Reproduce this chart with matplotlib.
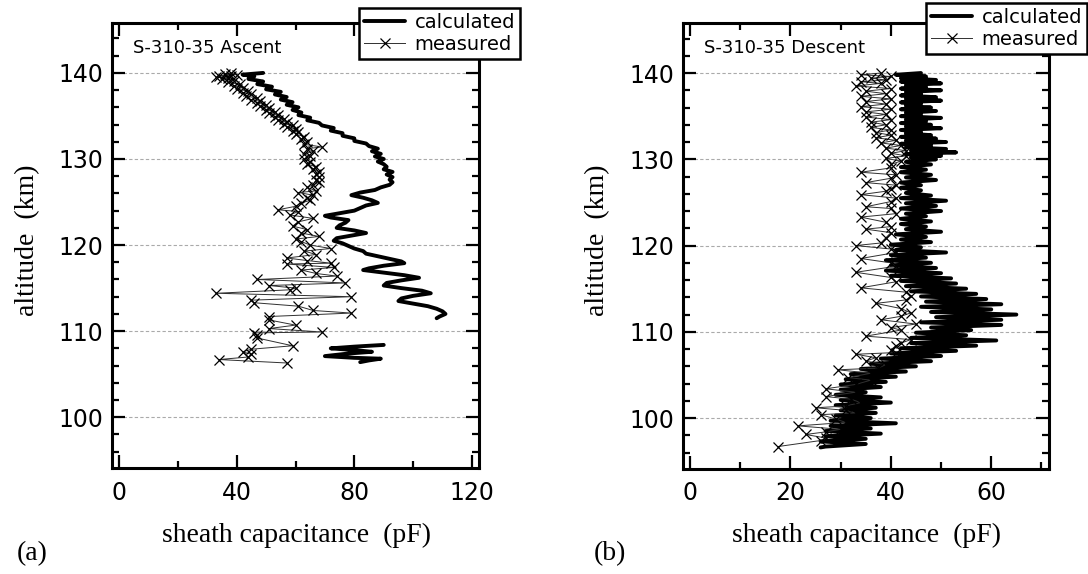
import numpy as np
import matplotlib
matplotlib.use("Agg")
import matplotlib.pyplot as plt
from matplotlib.ticker import MultipleLocator

# ---- (a) S-310-35 ascent ----
asc_calc_alt = [140.0, 139.8, 139.6, 139.3, 139.0, 138.7, 138.4, 138.1, 137.8, 137.5,
                137.2, 136.9, 136.6, 136.3, 136.0, 135.7, 135.4, 135.1, 134.8, 134.5,
                134.2, 133.9, 133.6, 133.3, 133.0, 132.7, 132.4, 132.1, 131.8, 131.5,
                131.2, 130.9, 130.6, 130.3, 130.0, 129.7, 129.4, 129.1, 128.8, 128.5,
                128.2, 127.9, 127.6, 127.3, 127.0, 126.7, 126.4, 126.1, 125.8, 125.5,
                125.2, 124.9, 124.6, 124.3, 124.0, 123.7, 123.4, 123.2, 122.9, 122.6,
                122.3, 122.0, 121.7, 121.4, 121.1, 120.8, 120.5, 120.2, 119.9, 119.6,
                119.3, 119.0, 118.7, 118.4, 118.1, 117.9, 117.6, 117.3, 117.1, 116.8,
                116.5, 116.2, 115.9, 115.6, 115.3, 115.0, 114.7, 114.4, 114.1, 113.8,
                113.5, 113.2, 112.9, 112.6, 112.3, 112.0, 111.7, 111.5]
asc_calc_cap = [49, 42, 46, 44, 49, 47, 52, 50, 55, 53,
                57, 55, 59, 57, 61, 59, 62, 61, 65, 64,
                68, 69, 73, 72, 76, 76, 80, 80, 84, 85,
                88, 86, 89, 87, 90, 88, 90, 91, 90, 93,
                91, 93, 92, 93, 92, 89, 87, 82, 79, 83,
                86, 88, 84, 82, 80, 75, 70, 72, 78, 77,
                75, 74, 80, 84, 79, 74, 73, 76, 78, 80,
                83, 84, 88, 92, 96, 97, 90, 85, 83, 90,
                97, 102, 96, 91, 90, 96, 103, 106, 100, 96,
                95, 100, 105, 108, 110, 111, 109, 108]
# short separate piece near 107 km
asc_calc2_alt = [108.4, 108.2, 108.0, 107.8, 107.6, 107.4, 107.1, 106.9, 106.8, 106.6, 106.4]
asc_calc2_cap = [90, 80, 72, 80, 86, 78, 70, 80, 89, 85, 82]

asc_meas_alt = [140.0, 139.9, 139.8, 139.7, 139.6, 139.5, 139.4, 139.3, 139.1, 138.9,
                138.7, 138.5, 138.3, 138.1, 137.9, 137.7, 137.5, 137.3, 137.1, 136.9,
                136.7, 136.5, 136.3, 136.1, 135.9, 135.7, 135.5, 135.3, 135.1, 134.9,
                134.7, 134.5, 134.3, 134.1, 133.9, 133.7, 133.5, 133.3, 133.1, 132.9,
                132.6, 132.3, 132.0, 131.7, 131.4, 131.2, 130.9, 130.6, 130.3, 130.0,
                129.7, 129.4, 129.1, 128.8, 128.5, 128.2, 127.9, 127.6, 127.3, 127.0,
                126.7, 126.3, 126.1, 125.8, 125.5, 125.2, 124.9, 124.5, 124.1, 123.9,
                123.5, 123.1, 122.7, 122.2, 121.8, 121.4, 121.0, 120.7, 120.4, 120.0,
                119.6, 119.3, 118.9, 118.5, 118.2, 117.9, 117.8, 117.4, 117.1, 116.7,
                116.4, 116.0, 115.6, 115.3, 115.0, 114.8, 114.4, 114.0, 113.6, 113.3,
                112.9, 112.4, 112.1, 111.7, 111.3, 110.7, 110.3, 109.9, 109.8, 109.5,
                109.2, 108.3, 107.9, 107.6, 107.3, 107.0, 106.7, 106.3]
asc_meas_cap = [38, 36, 40, 34, 38, 33, 37, 35, 39, 37,
                41, 39, 42, 40, 44, 42, 45, 43, 47, 45,
                48, 47, 50, 48, 51, 50, 53, 51, 54, 53,
                56, 54, 57, 56, 59, 57, 60, 59, 61, 60,
                63, 62, 64, 63, 69, 64, 66, 63, 65, 63,
                65, 64, 67, 66, 68, 67, 68, 67, 68, 66,
                64, 67, 61, 66, 64, 65, 62, 60, 54, 61,
                58, 66, 61, 59, 64, 62, 68, 60, 62, 65,
                72, 63, 67, 57, 64, 72, 57, 73, 62, 67,
                74, 47, 77, 51, 60, 58, 33, 79, 45, 46,
                61, 66, 79, 51, 51, 60, 51, 69, 46, 47,
                47, 59, 45, 42, 45, 44, 34, 57]

# ---- (b) S-310-35 descent ----
desc_calc_alt = [140.0, 139.8, 139.6, 139.4, 139.2, 139.0, 138.8, 138.6, 138.4, 138.2,
                 138.0, 137.8, 137.6, 137.4, 137.2, 137.0, 136.8, 136.6, 136.4, 136.2,
                 136.0, 135.8, 135.6, 135.4, 135.2, 135.0, 134.8, 134.6, 134.4, 134.2,
                 134.0, 133.8, 133.6, 133.4, 133.2, 133.0, 132.8, 132.6, 132.4, 132.2,
                 132.0, 131.8, 131.6, 131.4, 131.2, 131.0, 130.8, 130.6, 130.4, 130.2,
                 130.0, 129.7, 129.4, 129.1, 128.8, 128.5, 128.2, 127.9, 127.6, 127.3,
                 127.0, 126.7, 126.4, 126.1, 125.8, 125.5, 125.2, 124.9, 124.6, 124.3,
                 124.0, 123.7, 123.4, 123.1, 122.8, 122.5, 122.2, 121.9, 121.6, 121.3,
                 121.0, 120.7, 120.4, 120.1, 119.8, 119.5, 119.2, 118.9, 118.6, 118.3,
                 118.0, 117.7, 117.4, 117.1, 116.8, 116.5, 116.2, 115.9, 115.6, 115.3,
                 115.0, 114.7, 114.4, 114.1, 113.8, 113.5, 113.2, 112.9, 112.6, 112.3,
                 112.0, 111.7, 111.4, 111.1, 110.8, 110.5, 110.2, 109.9, 109.6, 109.3,
                 109.0, 108.7, 108.4, 108.1, 107.8, 107.5, 107.2, 106.9, 106.6, 106.3,
                 106.0, 105.7, 105.4, 105.1, 104.8, 104.5, 104.2, 103.9, 103.6, 103.3,
                 103.0, 102.7, 102.4, 102.1, 101.8, 101.5, 101.2, 100.9, 100.6, 100.3,
                 100.0, 99.7, 99.4, 99.1, 98.8, 98.5, 98.2, 97.9, 97.6, 97.3,
                 97.0, 96.7, 96.6]
desc_calc_cap = [46, 41, 47, 42, 49, 42, 50, 43, 47, 42,
                 50, 43, 46, 42, 49, 43, 50, 42, 46, 43,
                 48, 42, 49, 43, 46, 42, 50, 43, 47, 42,
                 48, 43, 50, 42, 46, 43, 48, 42, 49, 43,
                 51, 42, 48, 43, 51, 44, 53, 43, 50, 44,
                 49, 43, 48, 42, 47, 42, 48, 43, 49, 42,
                 46, 42, 46, 43, 48, 42, 51, 43, 49, 42,
                 50, 43, 47, 42, 48, 42, 47, 43, 50, 41,
                 47, 42, 48, 40, 46, 41, 51, 40, 47, 39,
                 48, 40, 49, 39, 50, 40, 52, 42, 53, 43,
                 55, 44, 57, 46, 59, 47, 62, 46, 60, 48,
                 65, 49, 62, 46, 62, 48, 56, 45, 55, 44,
                 61, 44, 57, 42, 53, 40, 50, 38, 48, 36,
                 45, 34, 43, 32, 41, 31, 39, 30, 38, 30,
                 35, 29, 38, 30, 40, 29, 37, 30, 37, 29,
                 36, 28, 41, 28, 36, 27, 38, 27, 35, 26,
                 35, 27, 26]

desc_meas_alt = [140.0, 139.8, 139.6, 139.4, 139.2, 139.0, 138.8, 138.5, 138.2, 137.9,
                 137.6, 137.3, 137.0, 136.7, 136.4, 136.1, 135.8, 135.5, 135.2, 134.9,
                 134.6, 134.3, 134.0, 133.7, 133.4, 133.1, 132.8, 132.5, 132.2, 131.9,
                 131.6, 131.3, 131.0, 130.7, 130.4, 130.1, 129.8, 129.4, 129.0, 128.5,
                 128.2, 127.8, 127.3, 127.0, 126.6, 126.3, 125.9, 125.5, 125.1, 124.5,
                 124.3, 123.7, 123.3, 122.7, 122.2, 121.9, 121.5, 120.9, 120.3, 120.0,
                 119.6, 119.2, 118.5, 118.0, 117.6, 116.9, 116.3, 115.8, 115.1, 114.6,
                 114.1, 113.7, 113.3, 112.7, 112.2, 111.8, 111.4, 110.9, 110.5, 110.2,
                 109.5, 109.1, 108.7, 108.4, 107.9, 107.6, 107.4, 107.0, 106.6, 106.2,
                 105.8, 105.6, 105.2, 104.7, 104.4, 103.9, 103.4, 103.0, 102.5, 102.2,
                 101.8, 101.4, 101.2, 100.9, 100.6, 100.4, 99.9, 99.5, 99.1, 98.7,
                 98.4, 98.1, 97.7, 97.4, 96.7]
desc_meas_cap = [38, 34, 40, 36, 39, 34, 38, 33, 40, 35,
                 39, 34, 40, 35, 39, 34, 40, 35, 39, 35,
                 40, 36, 39, 36, 40, 37, 40, 37, 41, 38,
                 42, 39, 43, 40, 43, 39, 42, 40, 40, 34,
                 41, 40, 35, 41, 40, 39, 34, 41, 40, 35,
                 40, 41, 34, 39, 40, 35, 40, 39, 38, 33,
                 40, 41, 34, 40, 41, 33, 40, 41, 34, 43,
                 44, 43, 37, 42, 44, 42, 38, 45, 40, 42,
                 35, 44, 42, 41, 40, 41, 33, 37, 35, 39,
                 37.5, 29.5, 36, 31.5, 36, 33, 27, 33, 27, 32,
                 34, 31, 25, 31, 33, 26, 29, 31, 21.5, 30,
                 27, 23, 27, 26, 17.5]

sans = "DejaVu Sans"
serif = "Liberation Serif"

fig = plt.figure(figsize=(10.88, 5.74), dpi=100)


def draw_panel(rect, calc_parts, meas_alt, meas_cap, xmax, xmajor, xminor, tag, leg_anchor):
    ax = fig.add_axes(rect)
    first = True
    for alt, cap in calc_parts:
        ax.plot(cap, alt, color="black", lw=2.8, solid_joinstyle="round",
                solid_capstyle="round", label="calculated" if first else None, zorder=3)
        first = False
    ax.plot(meas_cap, meas_alt, color="#303030", lw=0.7, marker="x", ms=6.5,
            mew=0.9, mec="black", label="measured", zorder=4)

    ax.set_xlim(xmax[0], xmax[1])
    ax.set_ylim(94.1, 145.8)
    ax.xaxis.set_major_locator(MultipleLocator(xmajor))
    ax.xaxis.set_minor_locator(MultipleLocator(xminor))
    ax.yaxis.set_major_locator(MultipleLocator(10))
    ax.yaxis.set_minor_locator(MultipleLocator(2))
    ax.tick_params(which="both", direction="in", top=True, right=True, width=1.6)
    ax.tick_params(which="major", length=9.5)
    ax.tick_params(which="minor", length=5)
    ax.tick_params(axis="x", labelsize=17, pad=9)
    ax.tick_params(axis="y", labelsize=17, pad=6)
    for lab in ax.get_xticklabels() + ax.get_yticklabels():
        lab.set_fontfamily(sans)
    for sp in ax.spines.values():
        sp.set_linewidth(2.2)
    for y in range(100, 141, 10):
        ax.axhline(y, color="#aaaaaa", lw=0.8, ls=(0, (3, 2)), zorder=1)

    ax.text(0.058, 0.944, tag, transform=ax.transAxes, fontsize=13,
            family=sans, va="center", ha="left")

    leg = ax.legend(loc="upper right", bbox_to_anchor=leg_anchor, borderaxespad=0,
                    fancybox=False, framealpha=1, edgecolor="black",
                    prop={"family": sans, "size": 14}, handlelength=2.1,
                    handletextpad=0.5, borderpad=0.25, labelspacing=0.15)
    leg.get_frame().set_linewidth(1.8)
    leg.set_zorder(10)
    return ax


ax1 = draw_panel([112 / 1088, 106 / 574, 367 / 1088, 445 / 574],
                 [(asc_calc_alt, asc_calc_cap), (asc_calc2_alt, asc_calc2_cap)],
                 asc_meas_alt, asc_meas_cap, (-2.4, 122.4), 40, 20,
                 "S-310-35 Ascent", (1.112, 1.034))
ax2 = draw_panel([683 / 1088, 105 / 574, 366 / 1088, 446 / 574],
                 [(desc_calc_alt, desc_calc_cap)],
                 desc_meas_alt, desc_meas_cap, (-1.4, 71.5), 20, 10,
                 "S-310-35 Descent", (1.104, 1.045))

for xc, lab in [(28, "altitude  (km)"), (598, "altitude  (km)")]:
    fig.text(xc / 1088, 1 - 240 / 574, lab, rotation=90, family=serif,
             fontsize=20, ha="center", va="center")
for xc, lab in [(296, "sheath capacitance  (pF)"), (867, "sheath capacitance  (pF)")]:
    fig.text(xc / 1088, 1 - 535 / 574, lab, family=serif, fontsize=20,
             ha="center", va="center")
fig.text(32 / 1088, 1 - 554 / 574, "(a)", family=serif, fontsize=20, ha="center", va="center")
fig.text(610 / 1088, 1 - 554 / 574, "(b)", family=serif, fontsize=20, ha="center", va="center")

fig.savefig("out.png", dpi=100)
